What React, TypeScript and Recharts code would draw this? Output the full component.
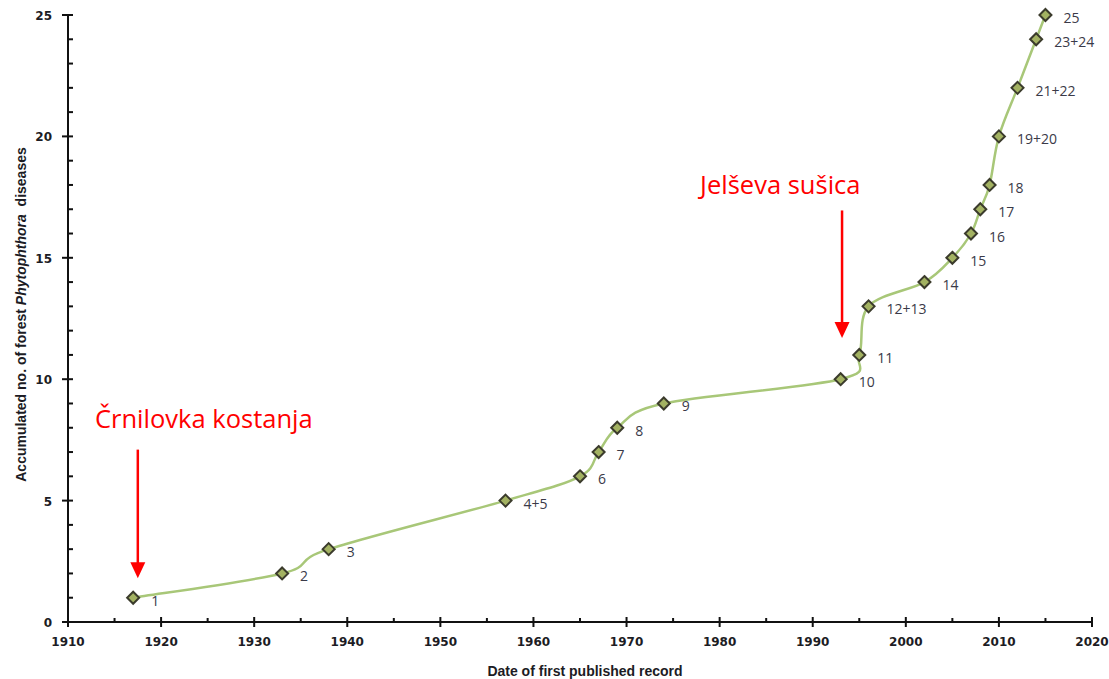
import React from 'react';
import {
  LineChart,
  Line,
  XAxis,
  YAxis,
  LabelList,
  ReferenceLine,
  ReferenceDot,
} from 'recharts';

// first published record per disease (year, accumulated count, point label)
const years = [1917, 1933, 1938, 1957, 1965, 1967, 1969, 1974, 1993, 1995, 1996, 2002, 2005, 2007, 2008, 2009, 2010, 2012, 2014, 2015];
const counts = [1, 2, 3, 5, 6, 7, 8, 9, 10, 11, 13, 14, 15, 16, 17, 18, 20, 22, 24, 25];
const pointLabels = ['1', '2', '3', '4+5', '6', '7', '8', '9', '10', '11', '12+13', '14', '15', '16', '17', '18', '19+20', '21+22', '23+24', '25'];

const xTicks = [1910, 1915, 1920, 1925, 1930, 1935, 1940, 1945, 1950, 1955, 1960, 1965, 1970, 1975, 1980, 1985, 1990, 1995, 2000, 2005, 2010, 2015, 2020];
const yTicks = Array.from({ length: 26 }, (_, i) => i);

// red annotations: arrow from -> to at a year, text placed at textYear/textValue
const annotations = [
  { text: 'Črnilovka kostanja', year: 1917.5, from: 7.1, to: 1.8, textYear: 1912.9, textValue: 8.0 },
  { text: 'Jelševa sušica', year: 1993.15, from: 16.95, to: 11.7, textYear: 1977.9, textValue: 17.63 },
];

const data = years.map((y, i) => ({ year: y, count: counts[i], label: pointLabels[i] }));

const TICK_FONT = '"DejaVu Sans", sans-serif';
const LABEL_FONT = '"Liberation Sans", Arial, sans-serif';

// spreadsheet-style smoothed line (Catmull-Rom as cubic beziers)
const smoothCurve = (context: any) => {
  let pts: [number, number][] = [];
  return {
    areaStart() {},
    areaEnd() {},
    lineStart() {
      pts = [];
    },
    lineEnd() {
      const n = pts.length;
      if (!n) return;
      context.moveTo(pts[0][0], pts[0][1]);
      for (let i = 0; i < n - 1; i++) {
        const p0 = pts[Math.max(i - 1, 0)];
        const p1 = pts[i];
        const p2 = pts[i + 1];
        const p3 = pts[Math.min(i + 2, n - 1)];
        context.bezierCurveTo(
          p1[0] + (p2[0] - p0[0]) / 6,
          p1[1] + (p2[1] - p0[1]) / 6,
          p2[0] - (p3[0] - p1[0]) / 6,
          p2[1] - (p3[1] - p1[1]) / 6,
          p2[0],
          p2[1]
        );
      }
    },
    point(x: number, y: number) {
      pts.push([x, y]);
    },
  };
};

const XTick = (props: any) => {
  const { x, y, payload } = props;
  const major = payload.value % 10 === 0;
  return (
    <g>
      {major ? (
        <line x1={x} x2={x} y1={y - 5} y2={y + 5} stroke="#111" strokeWidth={2} />
      ) : (
        <line x1={x} x2={x} y1={y - 4} y2={y} stroke="#111" strokeWidth={2} />
      )}
      {major && (
        <text x={x} y={y + 24} textAnchor="middle" fontFamily={TICK_FONT} fontWeight="bold" fontSize={12} fill="#1c1c24">
          {payload.value}
        </text>
      )}
    </g>
  );
};

const YTick = (props: any) => {
  const { x, y, payload } = props;
  const major = payload.value % 5 === 0;
  return (
    <g>
      {major ? (
        <line x1={x - 6} x2={x + 5} y1={y} y2={y} stroke="#111" strokeWidth={2} />
      ) : (
        <line x1={x} x2={x + 5} y1={y} y2={y} stroke="#111" strokeWidth={2} />
      )}
      {major && (
        <text x={x - 16} y={y + 5} textAnchor="end" fontFamily={TICK_FONT} fontWeight="bold" fontSize={12} fill="#1c1c24">
          {payload.value}
        </text>
      )}
    </g>
  );
};

const Diamond = (props: any) => {
  const { cx, cy } = props;
  if (cx == null || cy == null) return null;
  const r = 6;
  return (
    <polygon
      points={`${cx},${cy - r} ${cx + r},${cy} ${cx},${cy + r} ${cx - r},${cy}`}
      fill="#a3b262"
      stroke="#3b3b2c"
      strokeWidth={2}
    />
  );
};

const PointLabel = (props: any) => {
  const { x, y, value } = props;
  return (
    <text x={x + 18} y={y + 8} fontFamily='"Open Sans", sans-serif' fontSize={14} fill="#3a3a48">
      {value}
    </text>
  );
};

const Arrow = (props: any) => {
  const { x1, y1, x2, y2 } = props;
  if (x1 == null) return null;
  const head = 16;
  return (
    <g>
      <line x1={x1} y1={y1} x2={x2} y2={y2 - head + 1} stroke="#ff0000" strokeWidth={2.5} />
      <polygon points={`${x2 - 7.5},${y2 - head} ${x2 + 7.5},${y2 - head} ${x2},${y2}`} fill="#ff0000" />
    </g>
  );
};

const AnnotationText = (text: string) => (props: any) => {
  const { cx, cy } = props;
  return (
    <text x={cx} y={cy} fontFamily='"Open Sans", sans-serif' fontSize={25.5} fill="#ff0000">
      {text}
    </text>
  );
};

const YLabel = (props: any) => {
  const { viewBox } = props;
  const cx = viewBox.x + 14;
  const cy = viewBox.y + viewBox.height / 2 - 4;
  return (
    <text
      x={cx}
      y={cy}
      transform={`rotate(-90, ${cx}, ${cy})`}
      textAnchor="middle"
      dominantBaseline="middle"
      fontFamily={LABEL_FONT}
      fontWeight="bold"
      fontSize={14}
      fill="#1c1c24"
      xmlSpace="preserve"
    >
      Accumulated no. of forest <tspan fontStyle="italic">Phytophthora</tspan>{'  '}diseases
    </text>
  );
};

const XLabel = (props: any) => {
  const { viewBox } = props;
  return (
    <text
      x={viewBox.x + viewBox.width / 2 + 5}
      y={viewBox.y + 54}
      textAnchor="middle"
      fontFamily={LABEL_FONT}
      fontWeight="bold"
      fontSize={14}
      fill="#1c1c24"
    >
      Date of first published record
    </text>
  );
};

export default function App() {
  return (
    <div style={{ position: 'absolute', left: 0, top: 0, width: 1109, height: 679, background: '#fff' }}>
      <LineChart width={1109} height={679} data={data} margin={{ top: 15, right: 17, left: 8, bottom: 17 }}>
        <XAxis
          dataKey="year"
          type="number"
          domain={[1910, 2020]}
          ticks={xTicks}
          interval={0}
          tick={<XTick />}
          tickLine={false}
          tickSize={0}
          tickMargin={0}
          height={40}
          axisLine={{ stroke: '#111', strokeWidth: 2 }}
          allowDataOverflow
          label={{ content: XLabel }}
        />
        <YAxis
          type="number"
          domain={[0, 25]}
          ticks={yTicks}
          interval={0}
          tick={<YTick />}
          tickLine={false}
          tickSize={0}
          tickMargin={0}
          width={60}
          axisLine={{ stroke: '#111', strokeWidth: 2 }}
          label={{ content: YLabel }}
        />
        {annotations.map((a) => (
          <ReferenceLine
            key={a.text}
            segment={[
              { x: a.year, y: a.from },
              { x: a.year, y: a.to },
            ]}
            shape={<Arrow />}
            ifOverflow="visible"
          />
        ))}
        {annotations.map((a) => (
          <ReferenceDot
            key={a.text + '-t'}
            x={a.textYear}
            y={a.textValue}
            r={0}
            shape={AnnotationText(a.text)}
            ifOverflow="visible"
          />
        ))}
        <Line
          dataKey="count"
          type={smoothCurve as any}
          stroke="#a8c778"
          strokeWidth={2.5}
          dot={<Diamond />}
          activeDot={false}
          isAnimationActive={false}
        >
          <LabelList dataKey="label" content={<PointLabel />} />
        </Line>
      </LineChart>
    </div>
  );
}
